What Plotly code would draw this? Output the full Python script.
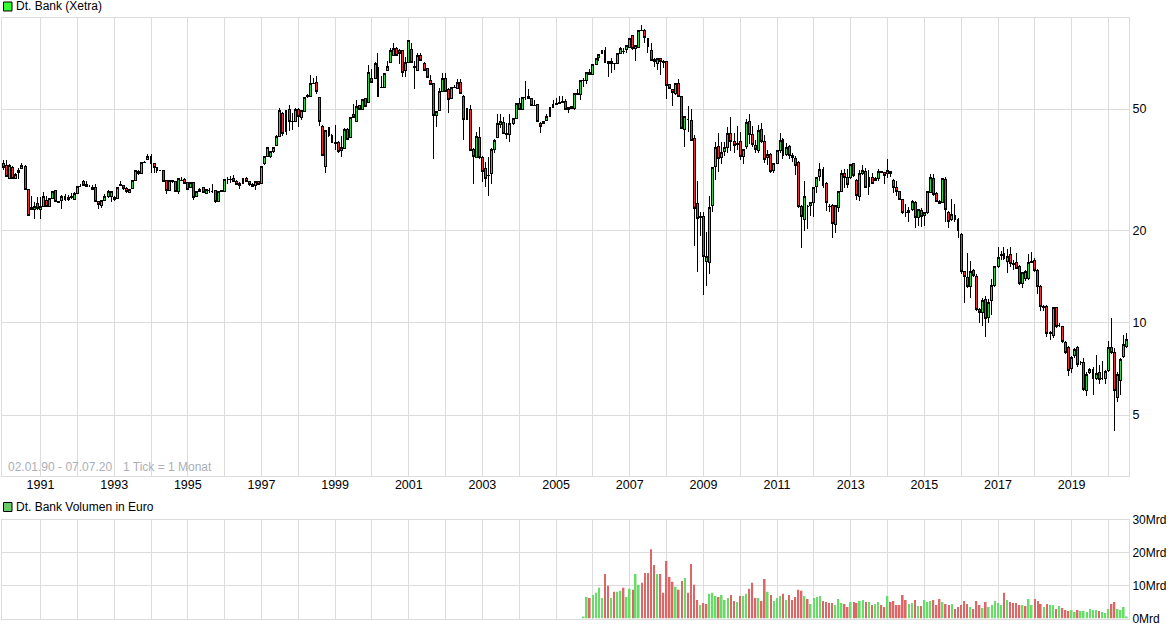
import pandas as pd
import plotly.graph_objects as go

W, H = 1175, 630

opens = [
 33.2,32.7,29.7,32.2,29.6,31.0,32.0,32.4,27.3,23.5,23.5,24.6,
 23.5,24.1,25.2,24.1,25.5,27.0,25.0,25.2,25.3,25.4,25.6,25.4,
 26.5,27.9,29.0,28.4,28.0,27.8,27.7,25.0,24.2,25.2,25.8,25.8,
 25.7,25.5,28.4,28.2,27.5,26.7,27.5,29.2,31.3,30.8,33.4,34.1,
 35.1,33.2,32.2,31.5,31.5,29.1,27.1,29.1,28.9,26.9,29.3,29.5,
 28.7,27.8,28.7,25.8,26.9,27.8,26.5,27.0,26.9,27.0,25.0,26.9,
 26.9,29.4,29.4,29.6,29.0,28.2,28.6,29.7,28.9,28.4,28.1,28.9,
 28.6,33.2,35.0,34.9,36.2,38.0,40.8,48.4,42.2,50.0,45.4,45.5,
 50.0,47.0,49.2,55.5,55.0,60.7,61.0,54.5,43.8,32.4,41.0,41.0,
 38.9,39.0,36.7,37.1,43.0,40.4,48.0,45.5,51.4,50.0,54.0,52.5,
 62.7,62.7,68.4,58.8,58.6,67.0,71.0,75.0,79.0,77.5,77.5,67.0,
 70.9,78.0,68.9,67.0,75.0,70.5,67.6,61.8,60.7,47.8,49.3,57.0,
 63.0,57.8,54.0,58.8,58.4,61.0,55.0,46.3,50.0,37.0,34.7,40.3,
 34.7,32.0,30.4,30.8,37.0,40.5,44.6,45.2,41.6,41.2,45.0,46.5,
 52.2,50.0,54.5,54.9,54.0,51.3,51.6,45.0,44.9,46.0,47.2,50.6,
 51.8,52.0,52.6,52.8,50.0,50.1,50.3,56.3,55.6,62.0,62.2,66.0,
 65.0,69.7,73.5,75.8,77.7,71.4,70.2,70.5,70.5,76.2,77.0,78.0,
 79.6,87.0,79.0,79.6,90.6,90.6,84.7,77.7,72.7,70.5,73.0,71.4,
 71.4,60.0,57.7,56.0,60.8,55.0,42.9,46.3,46.0,40.2,24.6,22.2,
 22.2,15.9,15.7,24.2,32.4,37.7,34.6,36.2,37.5,41.6,39.2,38.6,
 39.2,35.0,37.6,45.4,41.4,38.0,36.5,42.9,39.2,34.6,35.5,31.6,
 33.2,36.5,39.8,35.5,37.7,35.3,34.5,33.4,24.0,21.7,24.0,24.2,
 24.8,28.0,30.1,31.8,28.6,24.1,24.2,21.0,23.9,26.9,30.7,29.8,
 29.8,33.1,29.3,25.9,30.7,31.3,27.9,29.9,29.3,29.7,31.2,30.9,
 30.7,31.2,29.3,27.7,26.9,25.3,23.0,22.9,23.4,24.8,22.1,23.3,
 22.4,22.9,26.7,29.6,26.5,25.0,24.8,29.4,23.0,21.8,22.5,21.8,
 19.5,14.7,14.1,13.2,14.8,14.2,11.1,10.8,11.9,10.4,11.8,13.3,
 15.3,16.6,16.9,15.9,16.7,15.6,15.7,15.3,13.5,14.0,14.0,15.9,
 16.0,14.8,13.2,11.3,11.3,9.3,9.1,11.2,9.8,9.7,8.6,8.3,
 7.1,7.8,8.3,7.4,7.4,6.0,6.9,7.05,6.6,6.9,6.6,6.6,
 7.0,8.3,8.0,5.7,6.5,7.75,8.4,
]
highs = [
 34.1,34.1,33.1,32.5,30.8,32.0,33.2,32.7,27.4,25.9,24.9,25.7,
 25.8,26.7,25.9,25.6,27.0,27.2,25.1,26.2,26.3,26.1,26.6,26.7,
 28.0,28.4,29.4,29.0,28.2,28.2,28.4,25.0,25.3,26.3,27.1,27.0,
 25.9,27.9,29.0,28.3,27.8,27.4,29.4,31.5,31.5,33.5,33.9,35.7,
 35.7,33.4,32.3,31.6,31.6,29.2,29.3,29.2,29.0,29.8,30.0,29.8,
 28.8,28.9,28.9,27.0,27.5,27.9,27.4,27.7,28.4,27.2,27.0,27.1,
 29.5,30.0,30.2,30.4,29.2,28.8,29.7,30.0,29.0,28.6,29.1,29.1,
 32.5,35.0,37.5,36.3,37.5,41.0,50.2,49.0,49.5,51.5,48.5,50.2,
 50.3,49.8,54.6,55.8,64.5,63.0,64.0,54.7,44.5,42.8,43.7,41.5,
 44.2,39.3,40.8,43.2,43.2,47.2,52.0,53.5,51.6,54.0,54.2,69.5,
 67.5,71.0,76.0,64.0,65.6,71.5,79.0,82.0,79.5,78.5,77.8,74.0,
 84.2,82.0,71.5,76.0,76.0,71.4,67.8,64.5,61.0,49.2,58.6,65.5,
 65.5,58.5,59.0,60.0,62.5,62.5,55.5,50.3,51.5,37.2,42.0,43.8,
 35.0,33.5,34.8,37.2,39.8,48.0,48.0,47.0,45.0,48.0,46.6,52.5,
 54.5,54.7,61.8,58.0,54.2,53.5,51.8,45.3,45.8,48.3,50.8,53.5,
 54.5,55.0,55.3,54.0,50.7,51.3,56.4,58.0,62.2,63.0,66.2,67.5,
 69.8,73.3,75.4,78.0,80.0,71.6,73.5,70.7,76.1,80.0,79.0,81.0,
 85.6,87.3,81.0,90.8,94.0,91.0,85.0,82.0,73.5,73.2,73.2,72.5,
 71.6,60.3,58.0,61.0,62.5,55.3,47.4,51.0,50.0,41.0,29.0,23.0,
 23.0,19.8,25.9,32.4,38.9,41.6,39.0,38.9,43.8,47.0,41.8,44.0,
 42.0,37.0,46.5,48.3,44.0,39.5,44.5,45.0,41.0,36.6,36.0,33.4,
 36.7,41.6,40.2,38.7,38.0,36.0,35.0,33.7,24.3,29.1,24.3,24.9,
 27.9,30.0,33.4,32.4,28.8,24.4,24.4,24.3,27.0,31.5,31.8,31.8,
 33.1,33.3,29.6,31.5,32.8,32.0,31.7,31.0,30.0,31.8,31.4,31.2,
 34.3,31.4,29.5,29.0,27.0,25.5,24.5,23.9,25.3,25.0,23.5,23.7,
 23.0,26.9,30.6,30.6,26.7,25.2,29.7,30.0,23.2,25.5,24.4,22.0,
 19.7,14.8,16.9,15.9,15.0,14.4,11.2,12.1,12.2,12.0,13.9,15.4,
 17.7,17.2,17.7,17.5,17.7,16.0,16.9,15.5,14.7,14.9,16.8,17.1,
 16.3,15.0,13.3,11.4,11.4,9.4,11.3,11.3,10.0,9.8,8.7,8.4,
 7.8,8.3,8.4,7.5,7.7,6.9,7.1,7.2,7.85,7.3,7.5,7.0,
 8.7,10.4,8.3,6.9,7.7,9.1,9.3,
]
lows = [
 31.6,29.9,29.6,29.5,29.5,29.6,31.8,27.2,22.4,23.4,21.8,23.4,
 21.9,24.0,24.0,24.0,25.4,24.9,24.7,23.6,25.0,25.0,25.5,25.3,
 26.4,27.8,28.0,27.9,27.8,27.2,25.0,23.5,23.7,25.0,25.6,24.8,
 25.0,25.4,28.0,27.2,26.5,26.5,27.3,29.1,30.5,30.7,33.2,34.0,
 31.0,31.0,30.8,31.4,28.9,26.3,27.0,28.7,26.8,26.3,29.0,28.5,
 27.1,27.6,25.3,25.7,26.8,26.5,26.4,26.5,26.5,24.6,24.9,26.7,
 26.8,28.5,28.6,28.9,28.3,27.4,28.5,28.8,28.1,27.8,27.2,28.3,
 28.5,32.9,34.9,34.6,36.0,37.9,40.6,40.9,41.0,42.5,42.8,45.3,
 43.6,46.0,49.0,54.5,54.8,60.2,55.9,43.9,35.2,30.9,40.5,38.7,
 36.6,36.0,34.9,36.9,39.5,40.2,46.7,45.3,49.8,49.8,51.0,52.3,
 60.8,62.5,54.7,58.4,58.4,66.5,70.8,74.8,74.5,70.0,63.4,63.4,
 70.6,70.6,58.0,66.8,71.8,66.8,63.0,60.0,34.3,43.6,49.1,56.8,
 56.9,48.7,53.8,58.5,58.2,55.8,39.6,46.0,36.4,28.5,34.5,34.4,
 28.9,27.9,26.0,28.5,35.8,40.3,43.5,41.4,40.0,38.9,44.5,46.3,
 49.8,49.8,53.5,53.8,51.0,51.0,45.4,41.6,44.7,45.9,47.0,50.4,
 51.5,51.8,52.4,49.8,48.4,49.9,49.8,55.4,53.5,59.0,60.5,64.8,
 64.8,69.5,71.8,75.6,71.0,63.8,65.4,67.0,70.3,76.0,75.6,76.0,
 79.4,78.0,72.0,79.4,90.2,82.0,76.0,71.8,68.5,67.0,64.8,68.0,
 53.9,58.0,51.0,55.5,54.7,43.1,37.7,42.0,39.2,17.8,14.7,19.2,
 12.3,13.2,14.4,23.0,29.2,31.2,33.0,35.0,35.8,36.5,36.0,36.6,
 34.0,33.0,37.0,38.5,37.5,36.0,36.0,38.8,33.4,32.8,30.8,31.0,
 33.0,36.0,34.4,35.2,34.4,33.6,30.5,23.8,17.6,20.0,20.3,22.3,
 22.2,26.5,29.0,27.5,23.2,23.0,19.0,19.7,23.1,26.8,27.6,27.6,
 29.6,30.0,25.3,25.0,30.4,27.5,26.1,28.4,29.2,29.0,30.8,28.5,
 29.8,30.0,26.5,26.0,25.2,22.7,22.2,21.4,23.2,20.4,20.8,20.6,
 20.7,22.7,26.5,26.0,24.9,24.4,24.6,21.4,20.4,21.6,21.3,18.9,
 14.5,11.6,13.0,12.1,14.1,10.9,10.0,9.8,9.0,10.0,10.6,13.1,
 15.1,16.0,16.0,14.6,15.2,14.9,15.0,13.3,13.0,13.7,13.8,15.7,
 14.7,12.4,10.9,10.95,9.0,8.8,8.9,9.6,9.7,8.6,7.9,6.7,
 6.85,7.7,7.2,7.3,6.0,5.75,6.8,5.8,6.5,6.3,6.5,6.3,
 6.9,7.9,4.45,5.5,5.8,7.7,8.3,
]
closes = [
 32.2,30.0,32.7,29.6,30.6,31.5,32.6,27.3,22.5,23.8,24.0,23.7,
 24.0,25.9,24.1,25.5,26.9,25.0,24.8,25.9,25.9,25.7,25.9,26.5,
 27.9,27.9,28.1,28.0,28.0,27.3,25.0,24.3,25.2,25.9,26.8,26.8,
 25.4,27.8,28.2,27.4,26.8,27.3,29.2,31.4,30.7,33.4,33.5,35.0,
 33.3,32.2,31.5,31.5,29.0,27.0,29.1,28.9,26.9,29.7,29.2,28.6,
 27.2,28.7,25.7,26.9,27.3,26.7,27.2,27.0,26.9,25.0,26.9,27.0,
 29.4,29.4,29.5,29.0,28.4,28.6,29.6,28.9,28.3,28.0,29.0,28.4,
 32.4,34.9,37.4,36.2,37.4,40.8,49.4,41.6,49.4,45.5,45.5,50.0,
 47.2,49.5,54.5,54.8,60.7,60.5,57.2,45.5,35.3,42.4,43.6,38.9,
 38.7,36.4,37.5,43.0,39.8,47.0,46.9,51.0,50.0,53.9,51.0,66.0,
 61.0,70.2,54.9,58.7,65.4,68.6,77.5,79.0,74.8,76.2,66.0,70.7,
 84.0,70.9,68.5,75.0,72.0,67.0,63.4,60.2,47.6,49.0,57.0,63.0,
 57.1,53.6,58.9,58.9,61.0,56.0,46.3,50.2,36.6,34.9,40.7,34.7,
 31.3,29.7,30.3,37.0,39.6,44.9,45.6,41.6,41.2,44.9,46.4,52.2,
 50.0,54.5,54.5,54.0,51.2,51.2,45.6,43.9,45.6,47.2,50.6,51.6,
 52.0,52.4,53.0,50.0,50.5,51.1,56.2,55.6,62.0,62.2,66.0,65.0,
 69.7,73.1,75.2,77.7,71.2,70.2,71.6,70.4,75.9,78.6,76.9,80.8,
 85.1,79.0,80.8,90.6,90.5,85.8,80.0,72.0,71.4,73.0,71.4,71.2,
 59.5,58.5,56.5,60.8,54.9,43.3,47.2,46.2,39.4,23.6,21.9,22.1,
 16.5,16.5,23.9,32.2,37.5,34.4,36.0,37.5,41.6,39.1,38.0,38.2,
 35.0,36.9,45.1,41.3,38.2,37.0,42.5,39.2,34.1,35.4,31.2,33.2,
 36.5,39.4,35.3,37.5,35.3,34.7,32.7,24.0,22.2,25.8,24.0,24.8,
 27.8,29.9,31.8,28.1,24.7,24.0,21.2,24.2,26.9,30.7,29.8,28.3,
 32.9,30.3,26.0,30.7,31.5,27.7,29.8,28.6,29.7,31.2,31.1,30.4,
 31.6,30.8,27.6,26.9,25.3,22.9,23.0,23.3,24.9,22.1,23.4,22.2,
 22.9,26.8,29.8,26.3,25.0,24.6,29.6,23.5,21.5,22.6,21.8,20.1,
 14.7,14.2,13.2,14.7,14.3,11.1,10.8,11.8,10.3,11.7,13.3,15.3,
 16.4,16.7,16.2,16.5,15.6,15.5,15.1,13.5,14.6,14.7,15.8,15.8,
 14.8,13.2,11.3,11.2,9.2,9.2,11.2,9.7,9.8,8.7,8.0,7.0,
 7.7,8.2,7.3,7.4,6.05,6.8,7.05,6.6,6.85,6.55,6.6,6.95,
 8.3,8.0,6.0,6.8,7.6,8.5,8.8,
]
# Volume in Mrd Euro, Oct 1995 .. Jul 2020 in the picture's month order
volumes = [
 0.5,6.5,6.2,7.1,7.8,9.3,6.2,13.5,9.9,6.2,
 8.1,8.1,8.4,9.3,6.5,9.0,8.7,13.5,10.2,10.8,
 13.8,13.8,21.0,16.2,13.5,13.5,7.8,17.4,12.6,11.1,
 9.6,8.7,11.4,12.3,7.8,16.5,10.2,5.6,4.1,4.7,
 4.4,7.5,7.8,6.8,6.5,7.1,5.6,6.2,7.1,5.3,
 5.0,6.8,6.8,7.5,9.0,10.8,6.2,6.2,5.3,12.0,
 8.1,7.1,5.3,6.2,6.8,7.5,5.6,7.1,5.6,6.5,
 8.7,8.4,6.8,5.9,4.4,6.2,6.5,6.8,5.3,5.0,
 4.7,4.7,4.1,5.9,4.7,4.4,3.5,5.0,5.0,4.7,
 5.3,5.6,5.0,5.0,4.1,4.4,5.0,4.1,3.5,6.8,
 5.0,5.3,4.1,4.1,7.1,5.6,4.4,4.7,5.6,3.8,
 3.8,5.6,5.0,5.3,5.6,4.1,5.9,5.0,4.4,4.1,
 4.4,2.9,3.5,4.1,5.3,4.4,3.5,2.9,5.3,4.1,
 3.2,5.0,3.5,4.1,5.3,4.7,4.1,7.8,5.6,5.0,
 4.7,4.7,4.1,4.1,3.8,5.9,4.1,5.9,5.3,4.4,
 3.5,4.4,4.1,4.1,2.9,3.8,3.2,2.6,2.3,2.6,
 2.0,2.6,2.3,2.3,2.0,2.9,2.6,2.6,2.3,2.0,
 1.7,2.9,4.4,5.0,2.9,2.6,3.5,0.5,
]
volume_dir = list(
 "ggrggggrrg" "rggrggrggr" "rrrrgrrrrr" "grrgrrrrgr"
 "rgggrgggrr" "grggrrrgrr" "grgggrgrrr" "rrgrggggrr"
 "rrgggrrgrr" "ggrgrggrrg" "rrrrrrggrg" "rgggrrrgrr"
 "grrrrrgrrr" "grgggggrgr" "rrrgrggrrr" "grggrgrrrg"
 "grggggggrg" "ggrrgggg"
)
year_labels = [str(y) if y % 2 else "" for y in range(1991, 2021)]
year_ticks = [f"{y}-01-01" for y in range(1991, 2021)]
price_ticks = [5, 10, 20, 50]
volume_ticks = [0, 10, 20, 30]
volume_labels = ["0Mrd", "10Mrd", "20Mrd", "30Mrd"]

dates = pd.date_range("1990-01-01", periods=len(closes), freq="MS")
vol_dates = dates[-len(volumes):]

GRID = "#dcdcdc"
X0, X1 = 2, 1129


def xp(px):
    return px / W


def yp(px):
    return 1 - px / H


fig = go.Figure()
fig.add_trace(go.Candlestick(
    x=dates, open=opens, high=highs, low=lows, close=closes,
    increasing=dict(line=dict(color="#000000", width=1), fillcolor="#1fe03a"),
    decreasing=dict(line=dict(color="#000000", width=1), fillcolor="#f03030"),
    whiskerwidth=0, xaxis="x", yaxis="y", hoverinfo="skip",
))
fig.add_trace(go.Bar(
    x=vol_dates, y=volumes,
    marker=dict(color=["#66dd66" if d == "g" else "#dd6666" for d in volume_dir], line=dict(width=0)),
    xaxis="x2", yaxis="y2", hoverinfo="skip",
))

xrange_ = ["1989-12-15", "2020-07-23"]
common_x = dict(
    range=xrange_, type="date", tickmode="array", tickvals=year_ticks,
    showgrid=True, gridcolor=GRID, gridwidth=1, zeroline=False, ticks="",
    showline=True, linecolor=GRID, mirror=True, fixedrange=True, automargin=False,
    rangeslider=dict(visible=False),
)
fig.update_layout(
    width=W, height=H, autosize=False,
    margin=dict(l=0, r=0, t=0, b=0, pad=0),
    paper_bgcolor="white", plot_bgcolor="white",
    showlegend=False, bargap=0.42, boxgap=0.02,
    font=dict(family="Liberation Sans, Arial, sans-serif", size=12, color="#000000"),
    xaxis=dict(common_x, domain=[xp(X0), xp(X1)], anchor="y", ticktext=year_labels,
               tickfont=dict(size=12.5), ticklabelstandoff=-3),
    yaxis=dict(domain=[yp(476), yp(18)], type="log", range=[0.4997, 1.9964], side="right",
               tickmode="array", tickvals=price_ticks, ticktext=[str(v) for v in price_ticks],
               showgrid=True, gridcolor=GRID, zeroline=False, ticks="", automargin=False,
               showline=True, linecolor=GRID, mirror=True, anchor="x", fixedrange=True,
               tickfont=dict(size=12.5)),
    xaxis2=dict(common_x, domain=[xp(X0), xp(X1)], anchor="y2", showticklabels=False),
    yaxis2=dict(domain=[yp(618.5), yp(519.5)], range=[0, 30], side="right",
                tickmode="array", tickvals=volume_ticks, ticktext=volume_labels,
                showgrid=True, gridcolor=GRID, zeroline=False, ticks="", automargin=False,
                showline=True, linecolor=GRID, mirror=True, anchor="x2", fixedrange=True,
                tickfont=dict(size=12)),
    shapes=[
        dict(type="rect", xref="paper", yref="paper", x0=xp(3.5), x1=xp(12), y0=yp(11), y1=yp(2),
             fillcolor="#33ff33", line=dict(color="#000000", width=1)),
        dict(type="rect", xref="paper", yref="paper", x0=xp(3.5), x1=xp(12), y0=yp(511.5), y1=yp(502.5),
             fillcolor="#66cc66", line=dict(color="#000000", width=1)),
    ],
    annotations=[
        dict(text="Dt. Bank (Xetra)", xref="paper", yref="paper", x=xp(13.5), y=yp(6.5),
             xanchor="left", yanchor="middle", showarrow=False, font=dict(size=12)),
        dict(text="Dt. Bank Volumen in Euro", xref="paper", yref="paper", x=xp(13.5), y=yp(507),
             xanchor="left", yanchor="middle", showarrow=False, font=dict(size=12)),
        dict(text="02.01.90 - 07.07.20", xref="paper", yref="paper", x=xp(5.5), y=yp(467),
             xanchor="left", yanchor="middle", showarrow=False, font=dict(size=12, color="#aab0b8")),
        dict(text="1 Tick = 1 Monat", xref="paper", yref="paper", x=xp(120.5), y=yp(467),
             xanchor="left", yanchor="middle", showarrow=False, font=dict(size=12, color="#aab0b8")),
    ],
)

fig.write_html(
    "out.html", config=dict(displayModeBar=False),
    post_script=(
        "document.body.style.margin='0';document.body.style.overflow='hidden';"
        "var s=document.createElement('style');"
        "s.textContent='.boxlayer path{shape-rendering:crispEdges}';"
        "document.head.appendChild(s);"
    ),
)
